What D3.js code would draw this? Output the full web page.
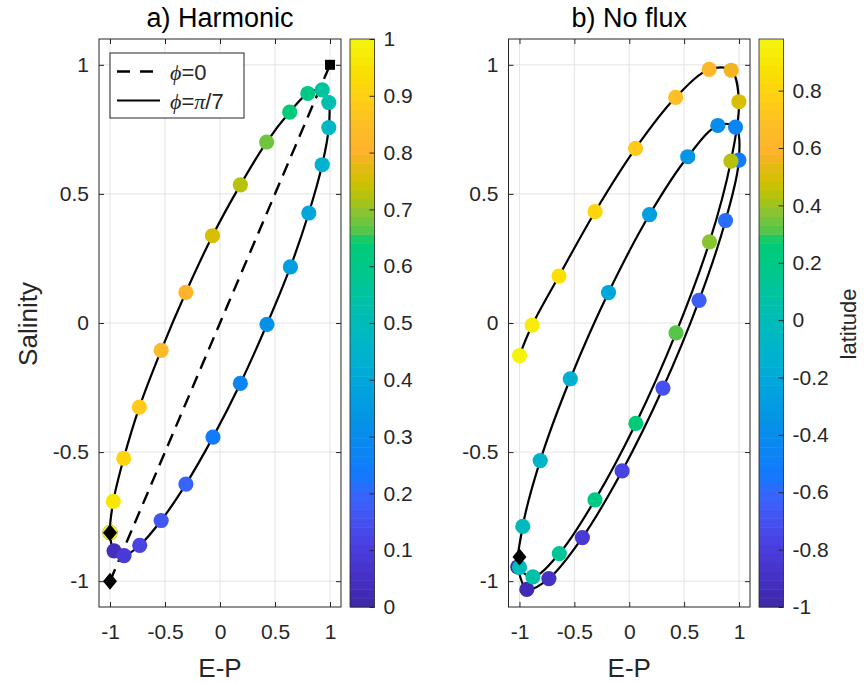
<!DOCTYPE html>
<html>
<head>
<meta charset="utf-8">
<script src="https://cdn.jsdelivr.net/npm/d3@7"></script>
<style>
body { margin: 0; background: #fff; }
text { font-family: "Liberation Sans", Arial, sans-serif; fill: #262626; }
</style>
</head>
<body>
<div id="chart"></div>
<script>
var width = 864;
var height = 683;

// panel a) harmonic, phi = pi/7 (read off the picture)
var harmLat = [0, 0.04, 0.08, 0.12, 0.16, 0.2, 0.24, 0.28, 0.32, 0.36, 0.4, 0.44, 0.48,
               0.52, 0.56, 0.6, 0.64, 0.68, 0.72, 0.76, 0.8, 0.84, 0.88, 0.92, 0.96, 1];
var harmX = [-1.0, -0.963, -0.872, -0.73, -0.535, -0.31, -0.064, 0.185, 0.427, 0.64, 0.807, 0.929, 0.989,
             0.989, 0.929, 0.798, 0.634, 0.424, 0.185, -0.068, -0.31, -0.535, -0.733, -0.875, -0.97, -1.0];
var harmY = [-0.812, -0.883, -0.901, -0.861, -0.765, -0.624, -0.442, -0.234, -0.005, 0.217, 0.426, 0.613, 0.757,
             0.854, 0.903, 0.889, 0.817, 0.701, 0.535, 0.338, 0.119, -0.106, -0.326, -0.524, -0.691, -0.812];
// phi = 0 line
var dashX = [-1, 1];
var dashY = [-1, 1];
var squareX = [1], squareY = [1];
var harmDiamondX = [-1, -1], harmDiamondY = [-1, -0.812];

// panel b) no flux
var nfLat = [-1, -0.94, -0.88, -0.82, -0.76, -0.7, -0.64, -0.58, -0.52, -0.46, -0.4, -0.34, -0.28, -0.22,
             -0.16, -0.1, -0.04, 0.02, 0.08, 0.14, 0.2, 0.26, 0.32, 0.38, 0.44, 0.5, 0.56, 0.62, 0.68,
             0.74, 0.8, 0.86, 0.92, 0.98];
var nfX = [-1.015, -0.933, -0.732, -0.427, -0.065, 0.307, 0.636, 0.877, 0.999, 0.968, 0.807, 0.533, 0.185, -0.189,
           -0.537, -0.811, -0.97, -1.0, -0.878, -0.637, -0.312, 0.06, 0.426, 0.731, 0.926, 0.999, 0.929, 0.728, 0.423,
           0.057, -0.311, -0.64, -0.884, -1.0];
var nfY = [-0.945, -1.032, -0.99, -0.831, -0.573, -0.252, 0.088, 0.397, 0.631, 0.759, 0.765, 0.644, 0.42, 0.118,
           -0.216, -0.533, -0.788, -0.947, -0.983, -0.893, -0.685, -0.389, -0.038, 0.314, 0.627, 0.857, 0.979, 0.982, 0.874,
           0.676, 0.431, 0.182, -0.008, -0.126];
var nfDiamondX = [-1.0], nfDiamondY = [-0.906];

var axTicks = [-1, -0.5, 0, 0.5, 1];
var cbTicksA = [0, 0.1, 0.2, 0.3, 0.4, 0.5, 0.6, 0.7, 0.8, 0.9, 1];
var cbTicksB = [-1, -0.8, -0.6, -0.4, -0.2, 0, 0.2, 0.4, 0.6, 0.8];

// colormap stops
var cmapPos = [0, 0.05, 0.1, 0.15, 0.2, 0.23, 0.28, 0.33, 0.38, 0.43, 0.48, 0.53, 0.58, 0.645,
               0.655, 0.69, 0.72, 0.75, 0.78, 0.8, 0.85, 0.9, 0.95, 1];
var cmapCol = ["#3e26a8", "#4530c4", "#4a3cdc", "#4650f0", "#3566fb", "#1478ff", "#0a86f2", "#0494e6",
               "#00a2de", "#00b0d2", "#00b8c2", "#00c0ac", "#00c890", "#00cc74", "#48c64e", "#80c438",
               "#b0c210", "#d2c000", "#e8b814", "#feb22c", "#febe26", "#ffd012", "#f8e200", "#f6f512"];
var nLevels = 64;
var cmap = d3.scaleLinear().domain(cmapPos).range(cmapCol);
function levelColor(t) {
  var i = Math.min(nLevels - 1, Math.max(0, Math.floor(t * nLevels)));
  return cmap((i + 0.5) / nLevels);
}

var svg = d3.select("#chart").append("svg").attr("width", width).attr("height", height);
var top0 = 39, bottom0 = 607;
var tickFont = 21;

function drawPanel(p) {
  var x = d3.scaleLinear().domain([-1.1, 1.1]).range([p.left, p.right]);
  var y = d3.scaleLinear().domain([-1.1, 1.1]).range([bottom0, top0]);
  var g = svg.append("g");

  // grid
  g.selectAll(".gx").data(axTicks).enter().append("line")
    .attr("x1", d => x(d)).attr("x2", d => x(d)).attr("y1", top0).attr("y2", bottom0)
    .attr("stroke", "#e3e3e3").attr("stroke-width", 1);
  g.selectAll(".gy").data(axTicks).enter().append("line")
    .attr("y1", d => y(d)).attr("y2", d => y(d)).attr("x1", p.left).attr("x2", p.right)
    .attr("stroke", "#e3e3e3").attr("stroke-width", 1);

  // axes, ticks pointing in
  var fmt = d => String(d);
  g.append("g").attr("transform", "translate(0," + bottom0 + ")")
    .call(d3.axisBottom(x).tickValues(axTicks).tickSizeInner(-5).tickSizeOuter(0).tickPadding(17).tickFormat(fmt));
  g.append("g").attr("transform", "translate(0," + top0 + ")")
    .call(d3.axisTop(x).tickValues(axTicks).tickSizeInner(-5).tickSizeOuter(0).tickFormat(""));
  g.append("g").attr("transform", "translate(" + p.left + ",0)")
    .call(d3.axisLeft(y).tickValues(axTicks).tickSizeInner(-5).tickSizeOuter(0).tickPadding(10).tickFormat(fmt));
  g.append("g").attr("transform", "translate(" + p.right + ",0)")
    .call(d3.axisRight(y).tickValues(axTicks).tickSizeInner(-5).tickSizeOuter(0).tickFormat(""));
  g.selectAll(".domain").remove();
  g.selectAll(".tick line").attr("stroke", "#262626");
  g.selectAll(".tick text").attr("font-size", tickFont).attr("fill", "#262626")
    .style("font-family", '"Liberation Sans", Arial, sans-serif');
  g.append("rect").attr("x", p.left).attr("y", top0).attr("width", p.right - p.left).attr("height", bottom0 - top0)
    .attr("fill", "none").attr("stroke", "#262626").attr("stroke-width", 1);

  // curves
  if (p.dashX) {
    g.append("path").datum(d3.range(p.dashX.length))
      .attr("d", d3.line().x(i => x(p.dashX[i])).y(i => y(p.dashY[i])))
      .attr("fill", "none").attr("stroke", "#000").attr("stroke-width", 2.4).attr("stroke-dasharray", "13,8");
  }
  var idx = d3.range(p.closed ? p.lat.length - 1 : p.lat.length);
  g.append("path").datum(idx)
    .attr("d", d3.line().x(i => x(p.xs[i])).y(i => y(p.ys[i]))
      .curve(p.closed ? d3.curveCatmullRomClosed.alpha(0.5) : d3.curveCatmullRom.alpha(0.5)))
    .attr("fill", "none").attr("stroke", "#000").attr("stroke-width", 2.2);

  // dots coloured by latitude
  var cmin = p.cdom[0], cmax = p.cdom[1];
  g.selectAll(".dot").data(d3.range(p.lat.length)).enter().append("circle")
    .attr("cx", i => x(p.xs[i])).attr("cy", i => y(p.ys[i])).attr("r", 7.6)
    .attr("fill", i => levelColor((p.lat[i] - cmin) / (cmax - cmin)));

  // markers
  if (p.sqX) {
    g.selectAll(".sq").data(p.sqX).enter().append("rect")
      .attr("x", (d, i) => x(d) - 5).attr("y", (d, i) => y(p.sqY[i]) - 5)
      .attr("width", 10).attr("height", 10).attr("fill", "#000");
  }
  g.selectAll(".dia").data(p.diaX).enter().append("path")
    .attr("d", (d, i) => {
      var cx = x(d), cy = y(p.diaY[i]);
      return "M" + cx + "," + (cy - 8.5) + "L" + (cx + 7) + "," + cy + "L" + cx + "," + (cy + 8.5) + "L" + (cx - 7) + "," + cy + "Z";
    })
    .attr("fill", "#000");

  // title and labels
  var cx = (p.left + p.right) / 2;
  svg.append("text").attr("x", cx).attr("y", 27).attr("text-anchor", "middle")
    .attr("font-size", 27).style("fill", "#000").text(p.title);
  svg.append("text").attr("x", cx).attr("y", 677).attr("text-anchor", "middle")
    .attr("font-size", 26).text("E-P");

  // colorbar
  var cb = d3.scaleLinear().domain(p.cdom).range([bottom0, top0]);
  var cg = svg.append("g");
  var bandH = (bottom0 - top0) / nLevels;
  cg.selectAll("rect").data(d3.range(nLevels)).enter().append("rect")
    .attr("x", p.cbLeft).attr("width", p.cbRight - p.cbLeft)
    .attr("y", i => bottom0 - (i + 1) * bandH).attr("height", bandH + 0.5)
    .attr("fill", i => cmap((i + 0.5) / nLevels));
  var ca = svg.append("g").attr("transform", "translate(" + p.cbRight + ",0)")
    .call(d3.axisRight(cb).tickValues(p.cbTicks).tickSizeInner(-5).tickSizeOuter(0).tickPadding(9).tickFormat(fmt));
  ca.select(".domain").remove();
  ca.selectAll(".tick line").attr("stroke", "#262626");
  ca.selectAll(".tick text").attr("font-size", tickFont).attr("fill", "#262626")
    .style("font-family", '"Liberation Sans", Arial, sans-serif');
  svg.append("rect").attr("x", p.cbLeft).attr("y", top0).attr("width", p.cbRight - p.cbLeft).attr("height", bottom0 - top0)
    .attr("fill", "none").attr("stroke", "#262626").attr("stroke-width", 0.8);

  return { x: x, y: y };
}

drawPanel({
  left: 99, right: 341, cbLeft: 350, cbRight: 374.5, title: "a) Harmonic",
  lat: harmLat, xs: harmX, ys: harmY, closed: true, cdom: [0, 1], cbTicks: cbTicksA,
  dashX: dashX, dashY: dashY, sqX: squareX, sqY: squareY, diaX: harmDiamondX, diaY: harmDiamondY
});
drawPanel({
  left: 508.5, right: 750, cbLeft: 759, cbRight: 783.5, title: "b) No flux",
  lat: nfLat, xs: nfX, ys: nfY, closed: false, cdom: [-1, 0.98], cbTicks: cbTicksB,
  diaX: nfDiamondX, diaY: nfDiamondY
});

// axis labels
svg.append("text").attr("transform", "translate(37,324) rotate(-90)").attr("text-anchor", "middle")
  .attr("font-size", 26).text("Salinity");
svg.append("text").attr("transform", "translate(856,324) rotate(-90)").attr("text-anchor", "middle")
  .attr("font-size", 22).text("latitude");

// legend
var leg = svg.append("g");
leg.append("rect").attr("x", 110).attr("y", 53).attr("width", 134).attr("height", 65)
  .attr("fill", "#fff").attr("stroke", "#262626").attr("stroke-width", 1);
leg.append("line").attr("x1", 117).attr("x2", 160).attr("y1", 71.5).attr("y2", 71.5)
  .attr("stroke", "#000").attr("stroke-width", 2.4).attr("stroke-dasharray", "13,10");
leg.append("line").attr("x1", 117).attr("x2", 160).attr("y1", 100.5).attr("y2", 100.5)
  .attr("stroke", "#000").attr("stroke-width", 2.2);
var t1 = leg.append("text").attr("x", 170).attr("y", 79.5).attr("font-size", 22);
t1.append("tspan").style("font-family", '"Liberation Serif", serif').style("font-style", "italic").text("ϕ");
t1.append("tspan").text("=0");
var t2 = leg.append("text").attr("x", 170).attr("y", 108.5).attr("font-size", 22);
t2.append("tspan").style("font-family", '"Liberation Serif", serif').style("font-style", "italic").text("ϕ");
t2.append("tspan").text("=");
t2.append("tspan").style("font-family", '"Liberation Serif", serif').style("font-style", "italic").text("π");
t2.append("tspan").text("/7");
</script>
</body>
</html>
